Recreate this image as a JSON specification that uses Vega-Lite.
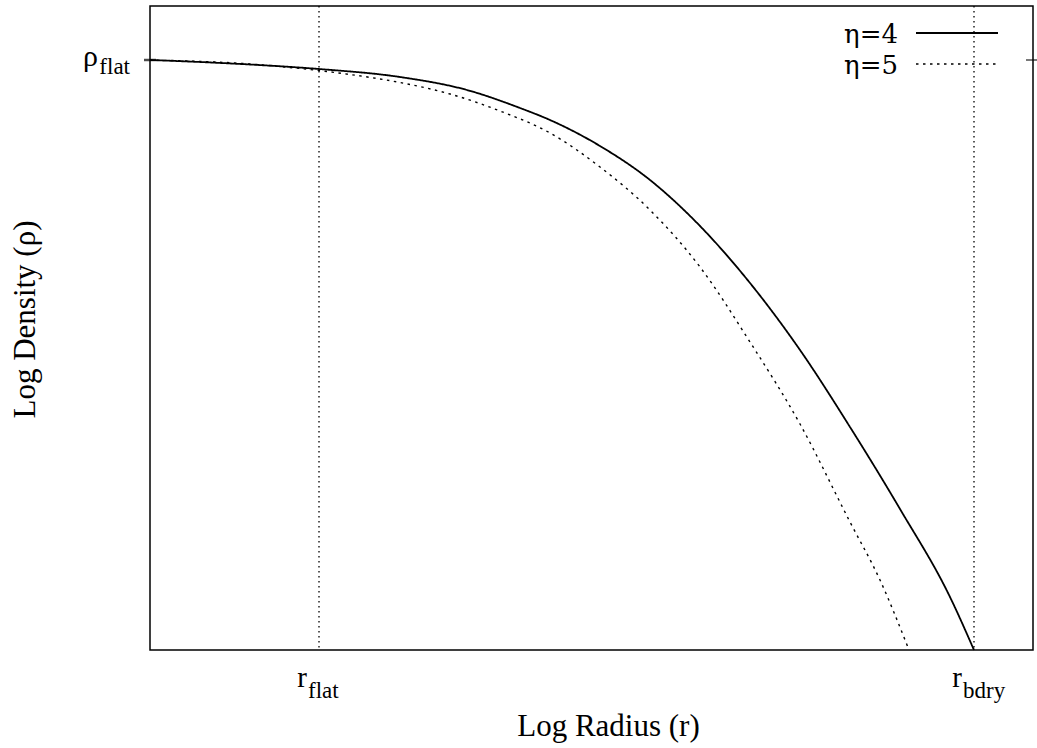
{
  "$schema": "https://vega.github.io/schema/vega-lite/v6.json",
  "width": 883,
  "height": 644,
  "autosize": "none",
  "padding": {"left": 150, "top": 6, "right": 4, "bottom": 98},
  "background": "white",
  "config": {
    "view": {"stroke": "black", "strokeWidth": 1.5},
    "font": "Liberation Serif"
  },
  "datasets": {
    "curves": [
      {"r": 0, "rho": 590, "series": "η=4"},
      {"r": 50, "rho": 588, "series": "η=4"},
      {"r": 100, "rho": 585.5, "series": "η=4"},
      {"r": 169, "rho": 581, "series": "η=4"},
      {"r": 250, "rho": 573, "series": "η=4"},
      {"r": 317, "rho": 560, "series": "η=4"},
      {"r": 370, "rho": 542, "series": "η=4"},
      {"r": 400, "rho": 530, "series": "η=4"},
      {"r": 450, "rho": 504, "series": "η=4"},
      {"r": 500, "rho": 470, "series": "η=4"},
      {"r": 550, "rho": 424, "series": "η=4"},
      {"r": 600, "rho": 367, "series": "η=4"},
      {"r": 650, "rho": 300, "series": "η=4"},
      {"r": 700, "rho": 223, "series": "η=4"},
      {"r": 750, "rho": 141, "series": "η=4"},
      {"r": 800, "rho": 53, "series": "η=4"},
      {"r": 824, "rho": 0, "series": "η=4"},
      {"r": 0, "rho": 590, "series": "η=5"},
      {"r": 100, "rho": 586, "series": "η=5"},
      {"r": 150, "rho": 581.5, "series": "η=5"},
      {"r": 200, "rho": 575.5, "series": "η=5"},
      {"r": 250, "rho": 567.5, "series": "η=5"},
      {"r": 300, "rho": 556, "series": "η=5"},
      {"r": 350, "rho": 539, "series": "η=5"},
      {"r": 400, "rho": 517, "series": "η=5"},
      {"r": 450, "rho": 483, "series": "η=5"},
      {"r": 500, "rho": 440, "series": "η=5"},
      {"r": 550, "rho": 383, "series": "η=5"},
      {"r": 600, "rho": 308, "series": "η=5"},
      {"r": 650, "rho": 226, "series": "η=5"},
      {"r": 700, "rho": 128, "series": "η=5"},
      {"r": 730, "rho": 70, "series": "η=5"},
      {"r": 759, "rho": 0, "series": "η=5"}
    ],
    "vlines": [{"r": 169}, {"r": 824}],
    "legend": [
      {"series": "η=4", "x1": 766, "x2": 848, "y": 617},
      {"series": "η=5", "x1": 766, "x2": 848, "y": 586}
    ],
    "xlabels": [
      {"r": 169, "main": "r", "sub": "flat"},
      {"r": 824, "main": "r", "sub": "bdry"}
    ],
    "ylabels": [{"rho": 590, "main": "ρ", "sub": "flat"}]
  },
  "layer": [
    {
      "data": {"name": "vlines"},
      "mark": {"type": "rule", "stroke": "black", "strokeWidth": 1.3, "strokeDash": [1.5, 3.5]},
      "encoding": {
        "x": {"field": "r", "type": "quantitative", "scale": {"domain": [0, 883], "nice": false, "zero": false}, "axis": {"title": "Log Radius (r)", "titleFontSize": 31, "titleFontWeight": "normal", "titleColor": "black", "titleAlign": "center", "titleAnchor": "start", "titleX": 458, "titleBaseline": "alphabetic", "titleY": 85, "labels": false, "ticks": false, "domain": false, "grid": false}}
      }
    },
    {
      "data": {"name": "curves"},
      "mark": {"type": "line", "stroke": "black", "interpolate": "monotone"},
      "encoding": {
        "x": {"field": "r", "type": "quantitative"},
        "y": {"field": "rho", "type": "quantitative", "scale": {"domain": [0, 644], "nice": false, "zero": false}, "axis": {"title": "Log Density (ρ)", "titleFontSize": 31, "titleFontWeight": "normal", "titleColor": "black", "titleX": -125, "titleY": 313, "titleAlign": "center", "titleAnchor": "start", "titleBaseline": "middle", "labels": false, "ticks": false, "domain": false, "grid": false}},
        "detail": {"field": "series"},
        "strokeDash": {"field": "series", "type": "nominal", "scale": {"domain": ["η=4", "η=5"], "range": [[1, 0], [2.5, 4.5]]}, "legend": null},
        "strokeWidth": {"field": "series", "type": "nominal", "scale": {"domain": ["η=4", "η=5"], "range": [1.8, 1.4]}, "legend": null}
      }
    },
    {
      "data": {"name": "legend"},
      "mark": {"type": "rule", "stroke": "black"},
      "encoding": {
        "x": {"field": "x1", "type": "quantitative"},
        "x2": {"field": "x2"},
        "y": {"field": "y", "type": "quantitative"},
        "strokeDash": {"field": "series", "type": "nominal", "scale": {"domain": ["η=4", "η=5"], "range": [[1, 0], [2.5, 4.5]]}, "legend": null},
        "strokeWidth": {"field": "series", "type": "nominal", "scale": {"domain": ["η=4", "η=5"], "range": [1.8, 1.4]}, "legend": null}
      }
    },
    {
      "data": {"name": "legend"},
      "mark": {"type": "text", "align": "right", "baseline": "middle", "fontSize": 26, "font": "DejaVu Serif", "dx": -18, "dy": 2, "color": "black"},
      "encoding": {
        "x": {"field": "x1", "type": "quantitative"},
        "y": {"field": "y", "type": "quantitative"},
        "text": {"field": "series"}
      }
    },
    {
      "data": {"name": "xlabels"},
      "mark": {"type": "text", "align": "right", "baseline": "alphabetic", "fontSize": 29, "dx": -12, "dy": 37, "color": "black"},
      "encoding": {
        "x": {"field": "r", "type": "quantitative"},
        "y": {"datum": 0, "type": "quantitative"},
        "text": {"field": "main"}
      }
    },
    {
      "data": {"name": "xlabels"},
      "mark": {"type": "text", "align": "left", "baseline": "alphabetic", "fontSize": 23, "dx": -11, "dy": 48, "color": "black"},
      "encoding": {
        "x": {"field": "r", "type": "quantitative"},
        "y": {"datum": 0, "type": "quantitative"},
        "text": {"field": "sub"}
      }
    },
    {
      "data": {"name": "ylabels"},
      "mark": {"type": "text", "align": "right", "baseline": "alphabetic", "fontSize": 30, "dx": -52, "dy": 6, "color": "black"},
      "encoding": {
        "x": {"datum": 0, "type": "quantitative"},
        "y": {"field": "rho", "type": "quantitative"},
        "text": {"field": "main"}
      }
    },
    {
      "data": {"name": "ylabels"},
      "mark": {"type": "text", "align": "right", "baseline": "alphabetic", "fontSize": 23, "dx": -20, "dy": 14, "color": "black"},
      "encoding": {
        "x": {"datum": 0, "type": "quantitative"},
        "y": {"field": "rho", "type": "quantitative"},
        "text": {"field": "sub"}
      }
    },
    {
      "data": {"name": "ylabels"},
      "mark": {"type": "tick", "orient": "horizontal", "color": "black", "thickness": 2.5, "size": 12},
      "encoding": {
        "x": {"datum": 0, "type": "quantitative"},
        "y": {"field": "rho", "type": "quantitative"}
      }
    },
    {
      "data": {"name": "ylabels"},
      "mark": {"type": "tick", "orient": "horizontal", "color": "black", "thickness": 1.5, "size": 14},
      "encoding": {
        "x": {"datum": 883, "type": "quantitative"},
        "y": {"field": "rho", "type": "quantitative"}
      }
    }
  ]
}
